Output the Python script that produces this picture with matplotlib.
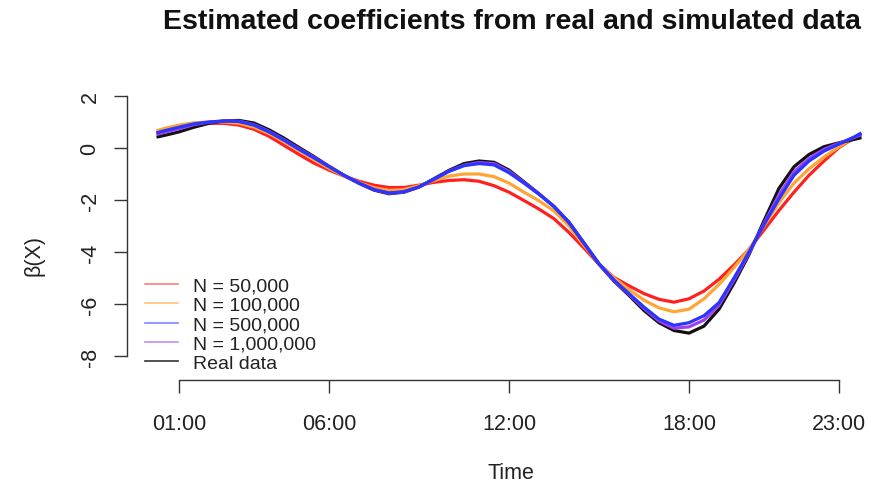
import matplotlib
matplotlib.use("Agg")
import matplotlib.pyplot as plt
from matplotlib.lines import Line2D

plt.rcParams["font.family"] = ["Liberation Sans", "DejaVu Sans"]

# hours of the day (x values)
hours = [0.25, 0.5, 1.0, 1.5, 2.0, 2.5, 3.0, 3.5, 4.0, 4.5, 5.0, 5.5, 6.0, 6.5,
         7.0, 7.5, 8.0, 8.5, 9.0, 9.5, 10.0, 10.5, 11.0, 11.5, 12.0, 12.5, 13.0,
         13.5, 14.0, 14.5, 15.0, 15.5, 16.0, 16.5, 17.0, 17.5, 18.0, 18.5, 19.0,
         19.5, 20.0, 20.5, 21.0, 21.5, 22.0, 22.5, 23.0, 23.5, 23.75]

beta_50k = [0.60, 0.68, 0.80, 0.90, 0.95, 0.95, 0.88, 0.72, 0.45, 0.10, -0.25,
            -0.58, -0.85, -1.08, -1.28, -1.43, -1.52, -1.52, -1.43, -1.32, -1.25,
            -1.22, -1.28, -1.45, -1.70, -2.02, -2.35, -2.72, -3.25, -3.85, -4.47,
            -4.98, -5.30, -5.60, -5.82, -5.93, -5.80, -5.50, -5.05, -4.50, -3.90,
            -3.15, -2.40, -1.70, -1.05, -0.50, 0.02, 0.38, 0.52]

beta_100k = [0.66, 0.75, 0.88, 0.97, 1.00, 1.00, 0.95, 0.80, 0.56, 0.25, -0.10,
             -0.45, -0.78, -1.08, -1.33, -1.53, -1.63, -1.60, -1.45, -1.25, -1.08,
             -1.00, -1.00, -1.10, -1.35, -1.70, -2.03, -2.42, -3.00, -3.75, -4.45,
             -5.00, -5.45, -5.85, -6.15, -6.30, -6.20, -5.80, -5.25, -4.60, -3.90,
             -3.00, -2.10, -1.35, -0.80, -0.35, 0.05, 0.40, 0.55]

beta_500k = [0.58, 0.66, 0.80, 0.93, 1.00, 1.04, 1.02, 0.88, 0.62, 0.30, -0.05,
             -0.38, -0.72, -1.05, -1.35, -1.60, -1.73, -1.68, -1.50, -1.20, -0.90,
             -0.68, -0.60, -0.65, -0.95, -1.35, -1.78, -2.25, -2.85, -3.65, -4.45,
             -5.08, -5.60, -6.12, -6.58, -6.82, -6.72, -6.45, -5.95, -5.00, -4.00,
             -2.95, -1.95, -1.05, -0.50, -0.12, 0.15, 0.42, 0.58]

beta_1m = [0.52, 0.60, 0.74, 0.90, 0.99, 1.04, 1.03, 0.90, 0.64, 0.32, -0.03,
           -0.36, -0.71, -1.05, -1.35, -1.60, -1.74, -1.69, -1.50, -1.20, -0.89,
           -0.66, -0.56, -0.60, -0.90, -1.33, -1.77, -2.25, -2.86, -3.66, -4.46,
           -5.10, -5.63, -6.17, -6.65, -6.93, -6.88, -6.62, -6.05, -5.08, -4.05,
           -2.90, -1.80, -0.92, -0.40, -0.05, 0.18, 0.40, 0.52]

beta_real = [0.42, 0.48, 0.62, 0.80, 0.95, 1.04, 1.06, 0.96, 0.70, 0.38, 0.02,
             -0.33, -0.70, -1.05, -1.36, -1.62, -1.76, -1.70, -1.50, -1.18, -0.86,
             -0.60, -0.50, -0.55, -0.85, -1.30, -1.76, -2.25, -2.87, -3.67, -4.47,
             -5.12, -5.67, -6.25, -6.72, -7.02, -7.12, -6.85, -6.20, -5.20, -4.10,
             -2.80, -1.55, -0.72, -0.25, 0.05, 0.20, 0.33, 0.40]

series_labels = ["N = 50,000", "N = 100,000", "N = 500,000", "N = 1,000,000", "Real data"]
x_ticks = [1, 6, 12, 18, 23]
x_tick_labels = ["01:00", "06:00", "12:00", "18:00", "23:00"]
y_ticks = [-8, -6, -4, -2, 0, 2]

W, H = 871, 489
fig = plt.figure(figsize=(W / 100, H / 100), dpi=100)
ax = fig.add_axes([127 / W, (H - 381) / H, (W - 127) / W, (381 - 80) / H])

lw = 2.3
ax.plot(hours, beta_50k, color="#ff2020", lw=lw, solid_capstyle="butt")
ax.plot(hours, beta_100k, color="#ffa535", lw=lw, solid_capstyle="butt")
ax.plot(hours, beta_real, color="#111111", lw=lw, solid_capstyle="butt")
ax.plot(hours, beta_1m, color="#a040f0", lw=lw, solid_capstyle="butt")
ax.plot(hours, beta_500k, color="#2a35ff", lw=lw, solid_capstyle="butt")

ax.set_xlim(1 + (127 - 179) / 30, 1 + (W - 179) / 30)
ax.set_ylim((149 - 381) / 26, (149 - 80) / 26)

for side in ["top", "right"]:
    ax.spines[side].set_visible(False)
ax.spines["left"].set_bounds(-8, 2)
ax.spines["bottom"].set_bounds(1, 23)
for side in ["left", "bottom"]:
    ax.spines[side].set_color("#333333")
    ax.spines[side].set_linewidth(1.0)

ax.set_xticks(x_ticks)
ax.set_xticklabels(x_tick_labels)
ax.set_yticks(y_ticks)
ax.set_yticklabels([str(v) for v in y_ticks], rotation=90, va="center")
ax.tick_params(axis="both", colors="#333333", labelcolor="#222222",
               labelsize=15.5, length=9.4, width=1.0)
ax.tick_params(axis="x", pad=14.6)
ax.tick_params(axis="y", pad=9.6)

fig.text(512 / W, 1 - 22 / H, "Estimated coefficients from real and simulated data",
         ha="center", va="center", fontsize=20.5, fontweight="bold", color="#111111")
fig.text(511 / W, 1 - 474 / H, "Time", ha="center", va="center",
         fontsize=15.5, color="#222222")
fig.text(34 / W, 1 - 255 / H, "β(X)", ha="center", va="center", rotation=90,
         fontsize=15.5, color="#222222")

legend_colors = ["#ff7a7a", "#ffc27a", "#7a86ff", "#c98af5", "#333333"]
handles = [Line2D([], [], color=c, lw=1.2) for c in legend_colors]
ax.legend(handles, series_labels, loc="upper left",
          bbox_to_anchor=(145 / W, 1 - 278 / H), bbox_transform=fig.transFigure,
          frameon=False, fontsize=14, handlelength=1.7, handletextpad=0.75,
          labelspacing=0.09, borderpad=0, borderaxespad=0, labelcolor="#222222")

fig.savefig("out.png", dpi=100)
